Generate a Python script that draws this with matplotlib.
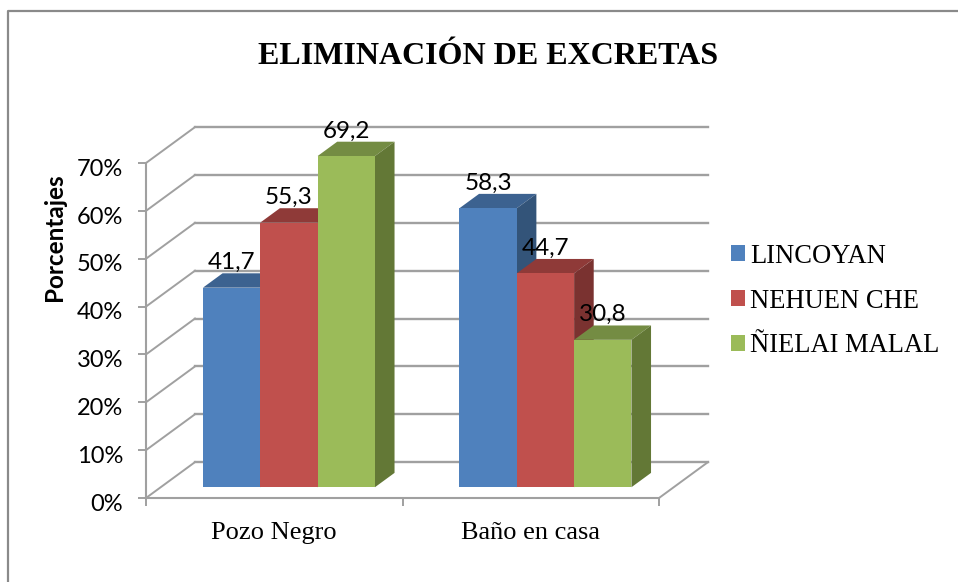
import matplotlib
matplotlib.use("Agg")
import matplotlib.pyplot as plt
from matplotlib.lines import Line2D
from matplotlib.patches import Patch, Polygon, Rectangle
from matplotlib.transforms import ScaledTranslation

categories = ["Pozo Negro", "Baño en casa"]
series_names = ["LINCOYAN", "NEHUEN CHE", "ÑIELAI MALAL"]
lincoyan = [41.7, 58.3]
nehuen_che = [55.3, 44.7]
nielai_malal = [69.2, 30.8]
y_ticks = [0, 10, 20, 30, 40, 50, 60, 70]

front_colors = ["#4f81bd", "#c0504d", "#9bbb59"]
top_colors = ["#3c6290", "#8f3a38", "#748c43"]
side_colors = ["#335479", "#7a3230", "#637836"]
grid_color = "#a0a0a0"

# how far the back wall sits behind the front plane, in data units
DEPTH_X = 0.191
DEPTH_Y = 7.5
BAR_W = 0.2235
BAR_FRONT = 0.3
BAR_BACK = 0.7


def skew(x, y, t):
    return (x + t * DEPTH_X, y + t * DEPTH_Y)


def drawBar(ax, x0, value, i):
    x1 = x0 + BAR_W
    top = [skew(x0, value, BAR_FRONT), skew(x1, value, BAR_FRONT),
           skew(x1, value, BAR_BACK), skew(x0, value, BAR_BACK)]
    side = [skew(x1, 0, BAR_FRONT), skew(x1, 0, BAR_BACK),
            skew(x1, value, BAR_BACK), skew(x1, value, BAR_FRONT)]
    ax.add_patch(Polygon(top, closed=True, fc=top_colors[i], ec="none", zorder=3, clip_on=False))
    ax.add_patch(Polygon(side, closed=True, fc=side_colors[i], ec="none", zorder=3, clip_on=False))
    fx, fy = skew(x0, 0, BAR_FRONT)
    ax.add_patch(Rectangle((fx, fy), BAR_W, value, fc=front_colors[i], ec="none", zorder=3, clip_on=False))


fig = plt.figure(figsize=(9.58, 5.82), dpi=100)
ax = fig.add_axes([146 / 958, 1 - 498 / 582, 513 / 958, 335 / 582])
ax.set_xlim(0, 2)
ax.set_ylim(0, 70)
ax.patch.set_alpha(0)

for s in ["top", "right"]:
    ax.spines[s].set_visible(False)
for s in ["left", "bottom"]:
    ax.spines[s].set_color(grid_color)
    ax.spines[s].set_linewidth(1.5)

# walls
for t in y_ticks:
    ax.plot([0, DEPTH_X], [t, t + DEPTH_Y], color=grid_color, lw=1.4, zorder=1, clip_on=False)
    ax.plot([DEPTH_X, 2 + DEPTH_X], [t + DEPTH_Y, t + DEPTH_Y], color=grid_color, lw=1.7, zorder=1, clip_on=False)
ax.plot([2, 2 + DEPTH_X], [0, DEPTH_Y], color=grid_color, lw=1.4, zorder=1, clip_on=False)

all_series = [lincoyan, nehuen_che, nielai_malal]
for c in range(len(categories)):
    for i, vals in enumerate(all_series):
        x0 = c + 0.5 + (i - 1.5) * BAR_W
        drawBar(ax, x0, vals[c], i)
        fx, fy = skew(x0 + BAR_W / 2, vals[c], BAR_FRONT)
        ax.annotate(str(vals[c]).replace(".", ","), (fx, fy), xytext=(0, 10.5),
                    textcoords="offset points", ha="center", va="bottom",
                    fontsize=17.5, family="Lato", color="black", zorder=5,
                    annotation_clip=False)

ax.set_yticks(y_ticks)
ax.set_yticklabels(["{}%".format(t) for t in y_ticks], fontsize=17, family="Lato")
ax.set_xticks([0, 1, 2])
ax.set_xticklabels([])
ax.tick_params(axis="both", color=grid_color, width=1.4, length=5.5)
ax.tick_params(axis="y", pad=11)
# labels sit a little below their ticks in the original
nudge = ScaledTranslation(0, -3 / 72, fig.dpi_scale_trans)
for lab in ax.get_yticklabels():
    lab.set_transform(lab.get_transform() + nudge)
for c, name in enumerate(categories):
    ax.annotate(name, (c + 0.5, 0), xytext=(0, -25), textcoords="offset points",
                ha="center", va="center", fontsize=19, family="Liberation Serif")

fig.text(54 / 958, 1 - 237 / 582, "Porcentajes", rotation=90, ha="center", va="center",
         fontsize=17.5, fontweight="bold", family="Lato")
fig.text(488 / 958, 1 - 57 / 582, "ELIMINACIÓN DE EXCRETAS", ha="center", va="center",
         fontsize=23, fontweight="bold", family="Liberation Serif")

handles = [Patch(fc=col, ec="none") for col in front_colors]
fig.legend(handles, series_names, loc="upper left", bbox_to_anchor=(728 / 958, 1 - 241 / 582),
           frameon=False, prop={"family": "Liberation Serif", "size": 19.1},
           handlelength=0.55, handleheight=0.55, handletextpad=0.17, labelspacing=0.75, borderpad=0.1, borderaxespad=0)

# chart frame, only left and top are inside the picture
fig.add_artist(Line2D([7.5 / 958, 7.5 / 958, 1], [0, 1 - 10.5 / 582, 1 - 10.5 / 582],
                      transform=fig.transFigure, color="#8a8a8a", lw=1.6))

fig.savefig("out.png", dpi=100)
